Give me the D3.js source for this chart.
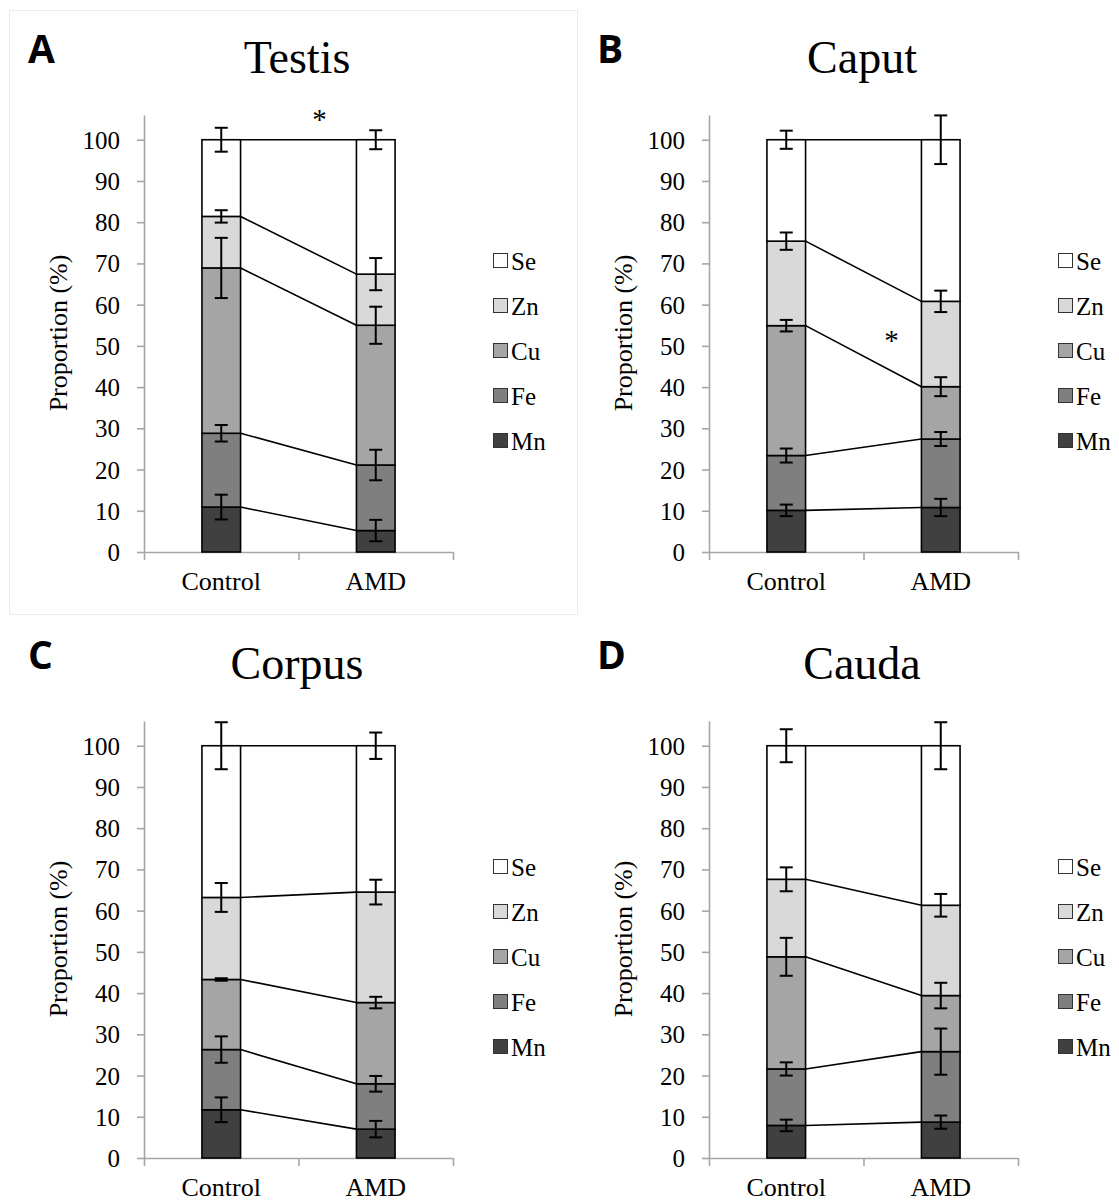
<!DOCTYPE html>
<html>
<head>
<meta charset="utf-8">
<script src="https://cdn.jsdelivr.net/npm/d3@7"></script>
<style>
  body { margin: 0; background: #fff; }
  svg { display: block; }
  text { font-family: "Liberation Serif", "Times New Roman", serif; fill: #000; }
  .tick text { font-family: "Liberation Serif", serif !important; font-size: 25px; }
  .letter { font-family: "Open Sans", "DejaVu Sans", sans-serif; font-weight: 700; }
</style>
</head>
<body>
<svg width="1119" height="1202"></svg>
<script>
// element order, bottom of the stack to the top
var elements = ["Mn", "Fe", "Cu", "Zn", "Se"];
var groups = ["Control", "AMD"];
var yTicks = [0, 10, 20, 30, 40, 50, 60, 70, 80, 90, 100];
var colors = ["#404040", "#7f7f7f", "#a5a5a5", "#d9d9d9", "#ffffff"];

// proportion (%) of each element, Mn..Se
var testisControl = [10.9, 17.9, 40.1, 12.5, 18.6];
var testisAMD     = [5.2, 15.9, 33.9, 12.4, 32.6];
var testisControlErr = [3.0, 2.0, 7.3, 1.5, 2.9];
var testisAMDErr     = [2.6, 3.7, 4.5, 3.9, 2.3];

var caputControl = [10.1, 13.3, 31.5, 20.5, 24.6];
var caputAMD     = [10.8, 16.6, 12.7, 20.7, 39.2];
var caputControlErr = [1.4, 1.7, 1.4, 2.1, 2.2];
var caputAMDErr     = [2.1, 1.7, 2.3, 2.6, 5.9];

var corpusControl = [11.7, 14.6, 17.0, 19.9, 36.8];
var corpusAMD     = [7.0, 11.0, 19.7, 26.8, 35.5];
var corpusControlErr = [3.0, 3.2, 0.3, 3.5, 5.7];
var corpusAMDErr     = [2.0, 1.9, 1.4, 3.0, 3.2];

var caudaControl = [7.9, 13.7, 27.2, 18.8, 32.4];
var caudaAMD     = [8.7, 17.1, 13.6, 21.9, 38.7];
var caudaControlErr = [1.4, 1.6, 4.6, 2.9, 4.0];
var caudaAMDErr     = [1.6, 5.6, 3.1, 2.75, 5.7];

var panels = [
  {letter: "A", title: "Testis", ctrl: testisControl, amd: testisAMD, ctrlErr: testisControlErr, amdErr: testisAMDErr,
   ox: 0, oy: 0, star: {dx: 21, v: 106}, box: true},
  {letter: "B", title: "Caput", ctrl: caputControl, amd: caputAMD, ctrlErr: caputControlErr, amdErr: caputAMDErr,
   ox: 565, oy: 0, star: {dx: 28, v: 52.4}},
  {letter: "C", title: "Corpus", ctrl: corpusControl, amd: corpusAMD, ctrlErr: corpusControlErr, amdErr: corpusAMDErr,
   ox: 0, oy: 606},
  {letter: "D", title: "Cauda", ctrl: caudaControl, amd: caudaAMD, ctrlErr: caudaControlErr, amdErr: caudaAMDErr,
   ox: 565, oy: 606}
];

var svg = d3.select("svg");

panels.forEach(function(p) {
  var g = svg.append("g").attr("transform", "translate(" + p.ox + "," + p.oy + ")");

  if (p.box) {
    g.append("rect").attr("x", 9.5).attr("y", 10.5).attr("width", 568).attr("height", 604)
      .attr("fill", "none").attr("stroke", "#ececec").attr("stroke-width", 1);
  }

  var x = d3.scaleBand().domain(groups).range([144, 453]).padding(0);
  var y = d3.scaleLinear().domain([0, 106]).range([552, 115]);
  var bw = x.bandwidth() * 0.25;

  // build rows for d3.stack
  var rows = groups.map(function(grp, gi) {
    var vals = gi === 0 ? p.ctrl : p.amd;
    var row = {group: grp};
    elements.forEach(function(e, i) { row[e] = vals[i]; });
    return row;
  });
  var series = d3.stack().keys(elements)(rows);

  // axes
  var yAxis = g.append("g").attr("transform", "translate(144,0)")
    .call(d3.axisLeft(y).tickValues(yTicks).tickSize(7).tickSizeOuter(0).tickPadding(17));
  yAxis.attr("font-family", "Liberation Serif").attr("font-size", 25);
  yAxis.selectAll("text").attr("dy", "0.34em");

  var xb = d3.scaleLinear().domain([0, 2]).range([144, 453]);
  g.append("g").attr("transform", "translate(0,552)")
    .call(d3.axisBottom(xb).tickValues([0, 1, 2]).tickSize(8).tickSizeOuter(0).tickFormat(""));
  g.selectAll(".domain, .tick line").attr("stroke", "#a6a6a6").attr("stroke-width", 1.6);

  g.selectAll(".xlab").data(groups).enter().append("text")
    .attr("x", function(d) { return x(d) + x.bandwidth() / 2; })
    .attr("y", 590).attr("text-anchor", "middle").style("font-size", "26px").text(function(d) { return d; });

  // connecting lines between stacked tops
  var ctrlRight = x("Control") + x.bandwidth() / 2 + bw / 2;
  var amdLeft = x("AMD") + x.bandwidth() / 2 - bw / 2;
  series.forEach(function(s) {
    g.append("line").attr("x1", ctrlRight).attr("x2", amdLeft)
      .attr("y1", y(s[0][1])).attr("y2", y(s[1][1]))
      .attr("stroke", "#000").attr("stroke-width", 1.6);
  });

  // stacked bars
  g.selectAll(".layer").data(series).enter().append("g")
    .attr("fill", function(d, i) { return colors[i]; })
    .selectAll("rect").data(function(d) { return d; }).enter().append("rect")
    .attr("x", function(d) { return x(d.data.group) + x.bandwidth() / 2 - bw / 2; })
    .attr("y", function(d) { return y(d[1]); })
    .attr("width", bw)
    .attr("height", function(d) { return y(d[0]) - y(d[1]); })
    .attr("stroke", "#000").attr("stroke-width", 1.6);

  // error bars on each stacked top
  series.forEach(function(s, i) {
    s.forEach(function(d, gi) {
      var err = gi === 0 ? p.ctrlErr[i] : p.amdErr[i];
      var cx = x(d.data.group) + x.bandwidth() / 2;
      var eg = g.append("g").attr("stroke", "#000").attr("stroke-width", 2);
      eg.append("line").attr("x1", cx).attr("x2", cx).attr("y1", y(d[1] - err)).attr("y2", y(d[1] + err));
      [d[1] - err, d[1] + err].forEach(function(v) {
        eg.append("line").attr("x1", cx - 6.5).attr("x2", cx + 6.5).attr("y1", y(v)).attr("y2", y(v));
      });
    });
  });

  if (p.star) {
    g.append("text").attr("x", xb(1) + p.star.dx).attr("y", y(p.star.v) + 14)
      .attr("text-anchor", "middle").style("font-size", "29px").text("*");
  }

  // legend, Se on top
  var legend = g.selectAll(".leg").data(elements.slice().reverse()).enter().append("g")
    .attr("transform", function(d, i) { return "translate(493," + (260.5 + i * 45) + ")"; });
  legend.append("rect").attr("x", 0.5).attr("y", -7).attr("width", 14).attr("height", 14)
    .attr("fill", function(d) { return colors[elements.indexOf(d)]; })
    .attr("stroke", "#333").attr("stroke-width", 1);
  legend.append("text").attr("x", 18).attr("y", 9).style("font-size", "25px").text(function(d) { return d; });

  g.append("text").attr("transform", "translate(67,333) rotate(-90)")
    .attr("text-anchor", "middle").style("font-size", "26px").text("Proportion (%)");

  g.append("text").attr("x", 297).attr("y", 73).attr("text-anchor", "middle")
    .style("font-size", "46px").text(p.title);

  g.append("text").attr("class", "letter").attr("x", p.ox ? 32 : 28).attr("y", 63)
    .style("font-size", "39px").text(p.letter);
});
</script>
</body>
</html>
